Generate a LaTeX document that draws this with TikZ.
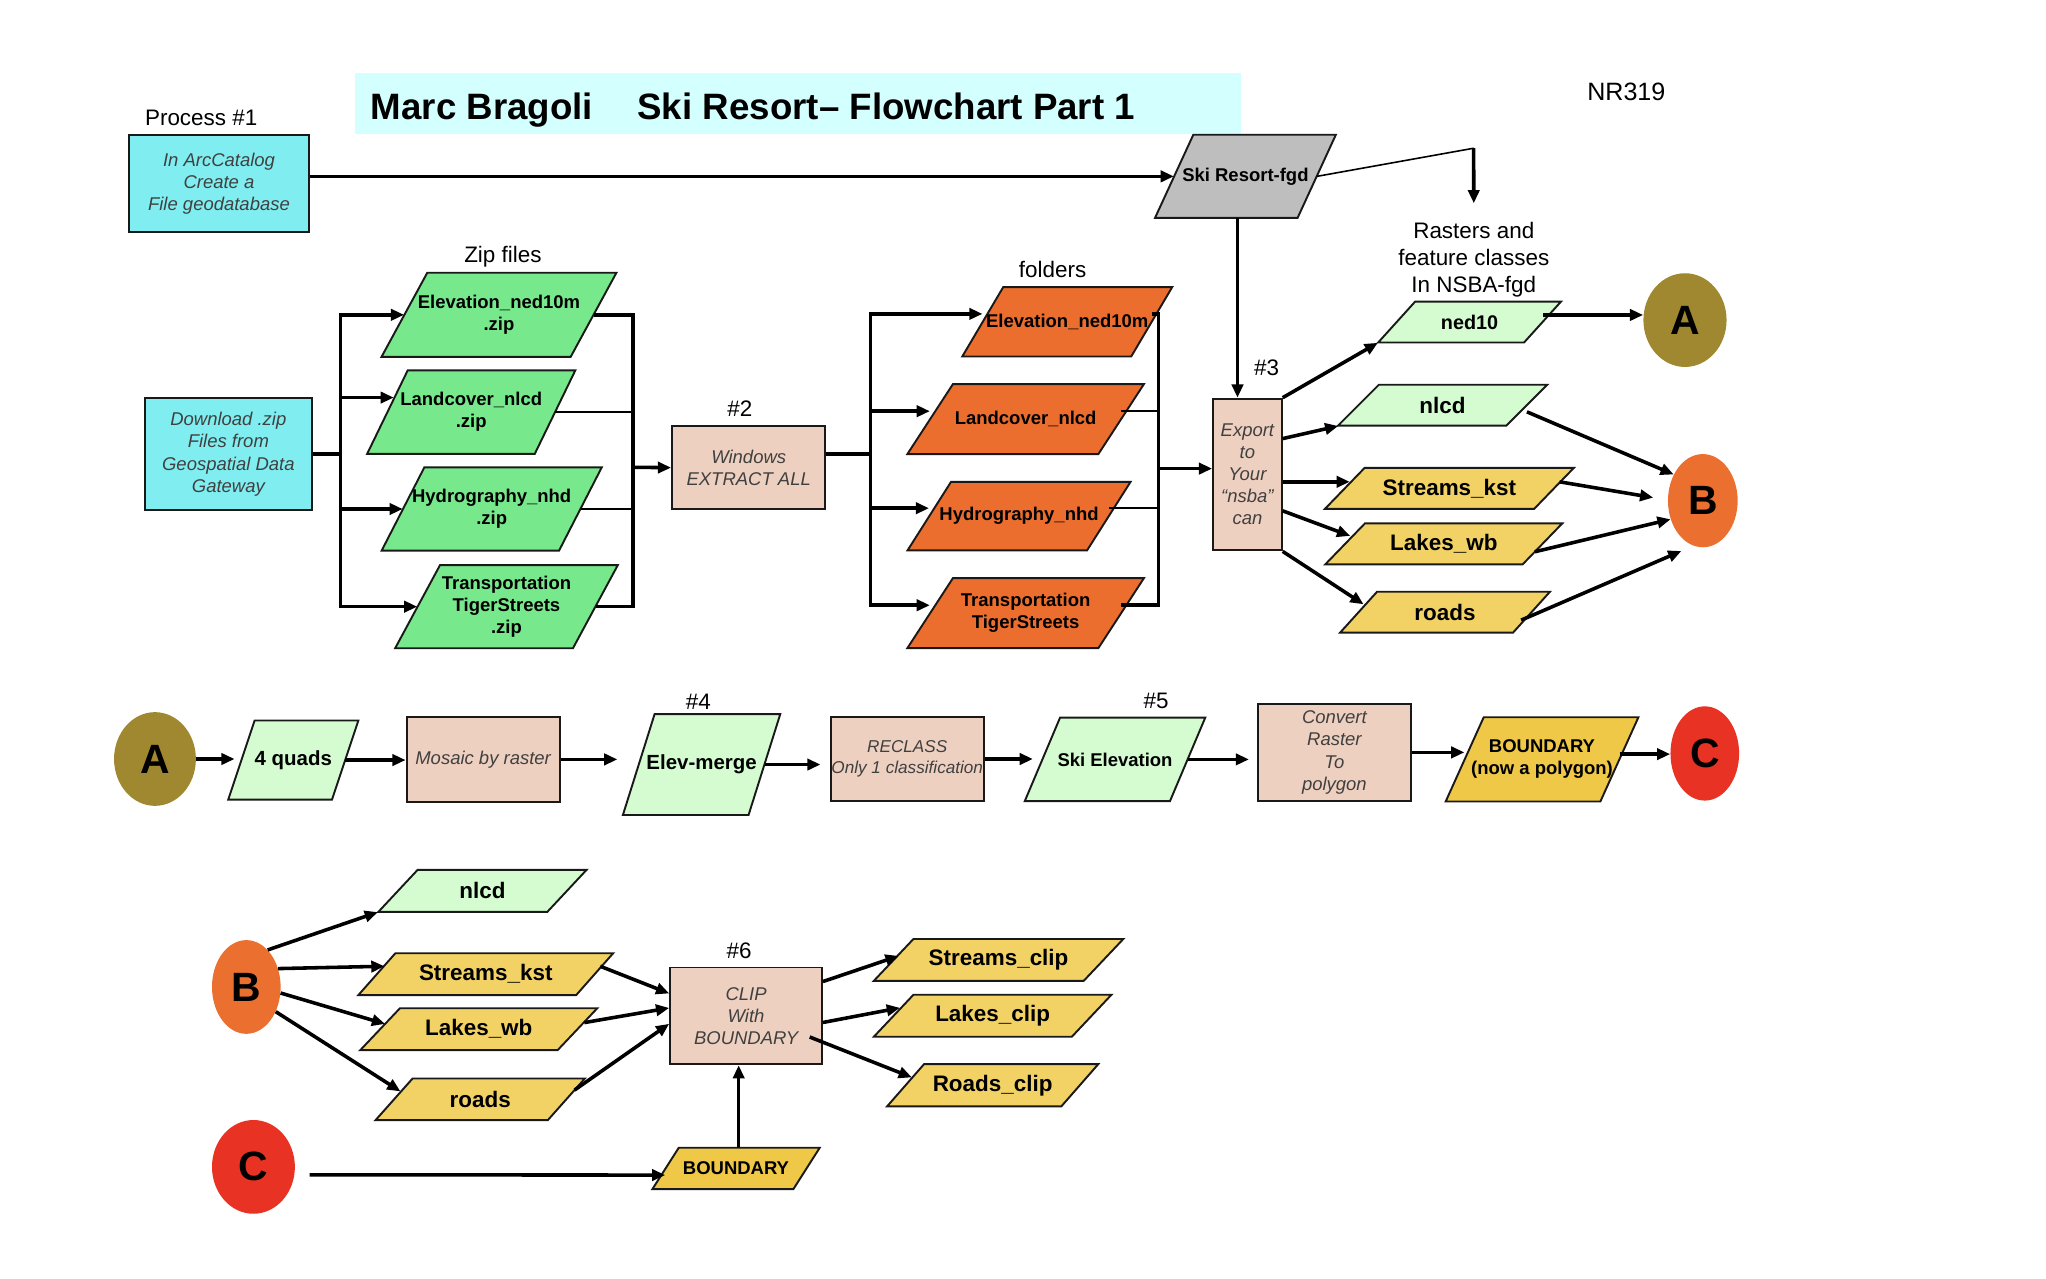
\documentclass[tikz,border=0pt]{standalone}
\usepackage{fontspec}
\setmainfont{Liberation Sans}
\usetikzlibrary{positioning,calc,shapes.geometric,arrows.meta}

\definecolor{titlefill}{HTML}{D4FFFF}
\definecolor{srcfill}{HTML}{80EEF0}
\definecolor{zipfill}{HTML}{78E88C}
\definecolor{dirfill}{HTML}{EC6E2E}
\definecolor{resfill}{HTML}{D4FCD0}
\definecolor{featfill}{HTML}{F2D264}
\definecolor{boundfill}{HTML}{EEC846}
\definecolor{procfill}{HTML}{EED0C0}
\definecolor{fgdfill}{HTML}{BEBEBE}
\definecolor{linkA}{HTML}{A08830}
\definecolor{linkB}{HTML}{EB7030}
\definecolor{linkC}{HTML}{E83223}

\tikzset{
  box/.style={draw=black!90, line width=1.45pt, inner sep=0pt, align=center,
    font=\fontsize{14}{17}\selectfont\itshape, text=black!75},
  srcbox/.style={box, fill=srcfill},
  procbox/.style={box, fill=procfill},
  paratext/.style={inner sep=0pt, align=center, font=\fontsize{14}{16.6}\selectfont\bfseries},
  bigbold/.style={font=\fontsize{17}{20}\selectfont\bfseries},
  midbold/.style={font=\fontsize{15.5}{18}\selectfont\bfseries},
  note/.style={inner sep=0pt, align=center, font=\fontsize{17}{20.7}\selectfont},
  link/.style={ellipse, inner sep=0pt, font=\fontsize{31}{31}\selectfont\bfseries},
  wire/.style={line width=2.7pt},
  thinwire/.style={line width=1.2pt},
  flow/.style={->, line width=2.7pt},
}

\newcommand{\datapara}[9][]{%
  \filldraw[fill=#8, draw=black!90, line width=1.45pt]
    (#3-#5/2-#7/2,#4+#6/2) -- ++(#5,0) -- ++(#7,-#6) -- ++(-#5,0) -- cycle;
  \node[paratext, minimum width=#5, minimum height=#6, #1] (#2) at (#3,#4) {#9};
}

\begin{document}
\begin{tikzpicture}[x=1pt, y=-1pt, >={Triangle[length=10pt,width=8.5pt]}]
\useasboundingbox (0,0) rectangle (1550,968.2);

\node[fill=titlefill, minimum width=671.6, minimum height=46.2, inner sep=0pt] (band) at (604.7,78.3) {};
\node[anchor=base west, inner sep=0pt, font=\fontsize{27.8}{30}\selectfont\bfseries] (title) at (280.8,90.2)
  {Marc Bragoli\hspace{33.6pt}Ski Resort– Flowchart Part 1};
\node[anchor=base west, inner sep=0pt, font=\fontsize{19}{19}\selectfont] (course) at (1202.3,75.9) {NR319};

\node[note, anchor=base west] (proc1) at (109.7,95) {Process \#1};
\node[srcbox, minimum width=137, minimum height=74, font=\fontsize{14}{16.5}\selectfont\itshape] (create) at (165.9,139)
  {In ArcCatalog\\Create a\\File geodatabase};
\datapara{skifgd}{943.5}{133.6}{108}{63}{29}{fgdfill}{Ski Resort-fgd}
\node[note, anchor=north, inner ysep=14pt] (rasters) at (1116.5,154) {Rasters and\\feature classes\\In NSBA-fgd};

\node[note, anchor=base] (ziplbl) at (381,199) {Zip files};
\node[srcbox, minimum width=126.6, minimum height=85] (download) at (173,344)
  {Download .zip\\Files from\\Geospatial Data\\Gateway};
\datapara{elevzip}{378}{238.5}{143.3}{63.8}{34.7}{zipfill}{Elevation\_ned10m\\.zip}
\datapara{landzip}{357}{312.2}{127}{63.2}{30.7}{zipfill}{Landcover\_nlcd\\.zip}
\datapara{hydzip}{372.5}{385.6}{134.4}{63}{32.3}{zipfill}{Hydrography\_nhd\\.zip}
\datapara{transzip}{383.7}{459.6}{134.7}{63}{34}{zipfill}{Transportation\\TigerStreets\\.zip}

\node[note, anchor=base] (step2) at (560.5,315.7) {\#2};
\node[procbox, minimum width=116.2, minimum height=63.2] (extract) at (567.2,354.3) {Windows\\EXTRACT ALL};

\node[note, anchor=base] (dirlbl) at (797.4,210) {folders};
\datapara{elevdir}{808.5}{243.8}{128}{52.5}{31}{dirfill}{Elevation\_ned10m}
\datapara{landdir}{777}{317.5}{144.7}{53}{34.5}{dirfill}{Landcover\_nlcd}
\datapara{hyddir}{772}{391}{136}{52}{33}{dirfill}{Hydrography\_nhd}
\datapara{transdir}{777}{464.5}{144.7}{53}{34.5}{dirfill}{Transportation\\TigerStreets}

\node[note, anchor=base] (step3) at (959.6,284.5) {\#3};
\node[procbox, minimum width=52, minimum height=115, font=\fontsize{14}{16.6}\selectfont\itshape] (export) at (945,359.5)
  {Export\\to\\Your\\“nsba”\\can};

\datapara[font=\fontsize{15}{18}\selectfont\bfseries]{ned10}{1113.3}{244}{110.5}{31}{28}{resfill}{ned10}
\datapara[bigbold]{nlcda}{1092.8}{307}{127.5}{31}{31}{resfill}{nlcd}
\datapara[bigbold]{streamsa}{1098}{370}{158.5}{31}{30}{featfill}{Streams\_kst}
\datapara[bigbold]{lakesa}{1093.8}{412}{149.5}{31}{30}{featfill}{Lakes\_wb}
\datapara[bigbold]{roadsa}{1094.7}{463.8}{131}{31}{28}{featfill}{roads}
\node[link, fill=linkA, minimum width=63, minimum height=71] (Aone) at (1276.5,242.5) {A};
\node[link, fill=linkB, minimum width=52.8, minimum height=70.6] (Bone) at (1290,379.3) {B};

\node[link, fill=linkA, minimum width=62, minimum height=71] (Atwo) at (117.4,575) {A};
\datapara[midbold]{quads}{222.2}{575.8}{78.6}{60}{20}{resfill}{4 quads}
\node[procbox, minimum width=116, minimum height=64] (mosaic) at (366,575.3) {Mosaic by raster};
\node[note, anchor=base] (step4) at (529,537.3) {\#4};
\datapara[midbold]{elevmerge}{531.5}{579.2}{95.2}{76.4}{24}{resfill}{Elev-merge}
\node[procbox, minimum width=116, minimum height=63, font=\fontsize{13}{16}\selectfont\itshape] (reclass) at (687.3,575)
  {RECLASS\\Only 1 classification};
\node[note, anchor=base] (step5) at (875.8,536.7) {\#5};
\datapara{skielev}{844.7}{575.3}{110}{63.2}{26.7}{resfill}{Ski Elevation}
\node[procbox, minimum width=116, minimum height=74] (convert) at (1010.9,570) {Convert\\Raster\\To\\polygon};
\datapara{boundpoly}{1168.2}{575.3}{117.2}{63.8}{28.8}{boundfill}{BOUNDARY\\(now a polygon)}
\node[link, fill=linkC, minimum width=52, minimum height=71.4] (Cone) at (1291.5,570.8) {C};

\node[link, fill=linkB, minimum width=52, minimum height=71] (Btwo) at (186.6,747.7) {B};
\datapara[bigbold]{nlcdb}{365.5}{674.9}{128}{31.8}{29.7}{resfill}{nlcd}
\datapara[bigbold]{streamsb}{368}{738}{165}{31.7}{28}{featfill}{Streams\_kst}
\datapara[bigbold]{lakesb}{362.7}{779.7}{149.5}{31.7}{30}{featfill}{Lakes\_wb}
\datapara[bigbold]{roadsb}{363.8}{832.8}{130.5}{31.5}{28}{featfill}{roads}
\node[note, anchor=base] (step6) at (560,725.9) {\#6};
\node[procbox, minimum width=115, minimum height=73.3, font=\fontsize{14}{16.5}\selectfont\itshape] (clip) at (565.2,769.6)
  {CLIP\\With\\BOUNDARY};
\datapara[bigbold]{sclip}{756.5}{727.2}{159}{31.7}{30}{featfill}{Streams\_clip}
\datapara[bigbold]{lclip}{752}{769.5}{150}{31.8}{30}{featfill}{Lakes\_clip}
\datapara[bigbold]{rclip}{752}{822.2}{132}{32}{28}{featfill}{Roads\_clip}
\node[link, fill=linkC, minimum width=62.8, minimum height=71] (Ctwo) at (192,884) {C};
\datapara{boundb}{557.6}{885.2}{106.8}{31.4}{20}{boundfill}{BOUNDARY}

\draw[flow] (create.east |- skifgd.west) -- (skifgd.west);
\coordinate (bend) at (1116.4,112.3);
\draw[thinwire] (skifgd.east) -- (bend);
\draw[flow] (bend) -- (rasters.north);
\draw[flow] ([xshift=-6pt]skifgd.south) -- ([xshift=-6pt]skifgd.south |- export.north);

\draw[wire] (download.east) -- ++(21,0) coordinate (split1);
\draw[wire, line cap=rect] (split1 |- elevzip) -- (split1 |- transzip);
\draw[flow] (split1 |- elevzip) -- (elevzip.west);
\draw[flow] ([yshift=11pt]split1 |- landzip) -- ([xshift=5pt,yshift=11pt]landzip.west);
\draw[flow] (split1 |- hydzip) -- (hydzip.west);
\draw[flow] (split1 |- transzip) -- (transzip.west);

\coordinate (merge1) at (479.5,354);
\draw[wire] (elevzip.east) -| (merge1);
\draw[wire] (transzip.east) -| (merge1);
\draw[thinwire] (landzip.east) -- (landzip.east -| merge1);
\draw[thinwire] (hydzip.east) -- (hydzip.east -| merge1);
\draw[flow] (merge1) -- (extract.west);

\draw[wire] ([yshift=10.5pt]extract.east) -- ++(33.6,0) coordinate (split2);
\draw[wire, line cap=rect] ([yshift=6pt]split2 |- elevdir) -- ([yshift=6pt]split2 |- transdir);
\foreach \f in {elevdir,landdir,hyddir,transdir}
  \draw[flow] ([yshift=6pt]split2 |- \f) -- ([yshift=6pt]\f.west);

\coordinate (merge2) at (877.7,355);
\draw[wire] ([yshift=6pt]elevdir.east) -| (merge2);
\draw[wire] ([yshift=6pt]transdir.east) -| (merge2);
\draw[thinwire] ([yshift=6pt]landdir.east) -| (merge2);
\draw[thinwire] ([yshift=6pt]hyddir.east) -| (merge2);
\draw[flow] (merge2) -- (merge2 -| export.west);

\draw[flow] (export.north east) -- ([xshift=-14pt]ned10.south west);
\draw[flow] ([yshift=-31pt]export.north east) -- ([xshift=-15pt]nlcda.south west);
\draw[flow] ([yshift=5pt]streamsa.west -| export.east) -- ([xshift=4pt,yshift=5pt]streamsa.west);
\draw[flow] ([yshift=-27.5pt]export.east) -- ([xshift=4pt,yshift=6pt]lakesa.west);
\draw[flow] (export.south east) -- ([xshift=4pt,yshift=6pt]roadsa.west);

\draw[flow] ([yshift=5.4pt]ned10.east) -- ([yshift=5.4pt]ned10.east -| Aone.west);
\draw[flow] ([yshift=-5pt]nlcda.east) -- (Bone.138);
\draw[flow] ([xshift=4pt,yshift=5pt]streamsa.east) -- ([xshift=-11pt]Bone.175);
\draw[flow] ([xshift=-6pt,yshift=-6pt]lakesa.east) -- (Bone.210);
\draw[flow] ([xshift=-8pt,yshift=-6pt]roadsa.east) -- ([yshift=-10pt]Bone.240);

\draw[flow, shorten >=5pt] (Atwo.east) -- (Atwo.east -| quads.west);
\draw[flow] (quads.east) -- (quads.east -| mosaic.west);
\draw[flow, shorten >=16pt] (mosaic.east) -- (mosaic.east -| elevmerge.west);
\draw[flow, shorten >=7pt] (elevmerge.east) -- (elevmerge.east -| reclass.west);
\draw[flow, shorten >=7pt] (reclass.east) -- (reclass.east -| skielev.west);
\draw[flow, shorten >=6pt] (skielev.east) -- (skielev.east -| convert.west);
\draw[flow] (convert.east) -- (convert.east -| boundpoly.west);
\draw[flow] ([yshift=4pt]boundpoly.east) -- ([yshift=4pt]boundpoly.east -| Cone.west);

\draw[flow] (Btwo.60) -- ([xshift=-15pt]nlcdb.south west);
\draw[flow] (Btwo.30) -- ([xshift=6pt,yshift=6pt]streamsb.west);
\draw[flow] (Btwo.350) -- ([xshift=4pt,yshift=4pt]lakesb.west);
\draw[flow] (Btwo.320) -- ([xshift=5pt,yshift=6pt]roadsb.west);
\draw[flow] ([xshift=4pt,yshift=6pt]streamsb.east) -- ([yshift=17pt]clip.west);
\draw[flow] ([xshift=5pt,yshift=5pt]lakesb.east) -- ([yshift=6pt]clip.west);
\draw[flow] ([xshift=6pt,yshift=7pt]roadsb.east) -- ([yshift=-6pt]clip.west);
\draw[flow] ([yshift=26pt]clip.east) -- ([xshift=4pt,yshift=3pt]sclip.west);
\draw[flow] ([yshift=-5pt]clip.east) -- ([xshift=5pt,yshift=6pt]lclip.west);
\draw[flow] ([xshift=-10pt,yshift=-16pt]clip.east) -- ([xshift=5pt,yshift=6pt]rclip.west);
\draw[flow] ([xshift=11pt,yshift=-6pt]Ctwo.east) -- ([yshift=-5pt]boundb.west);
\draw[flow] ([xshift=2pt]boundb.north) -- ([xshift=2pt]boundb.north |- clip.south);
\end{tikzpicture}
\end{document}
